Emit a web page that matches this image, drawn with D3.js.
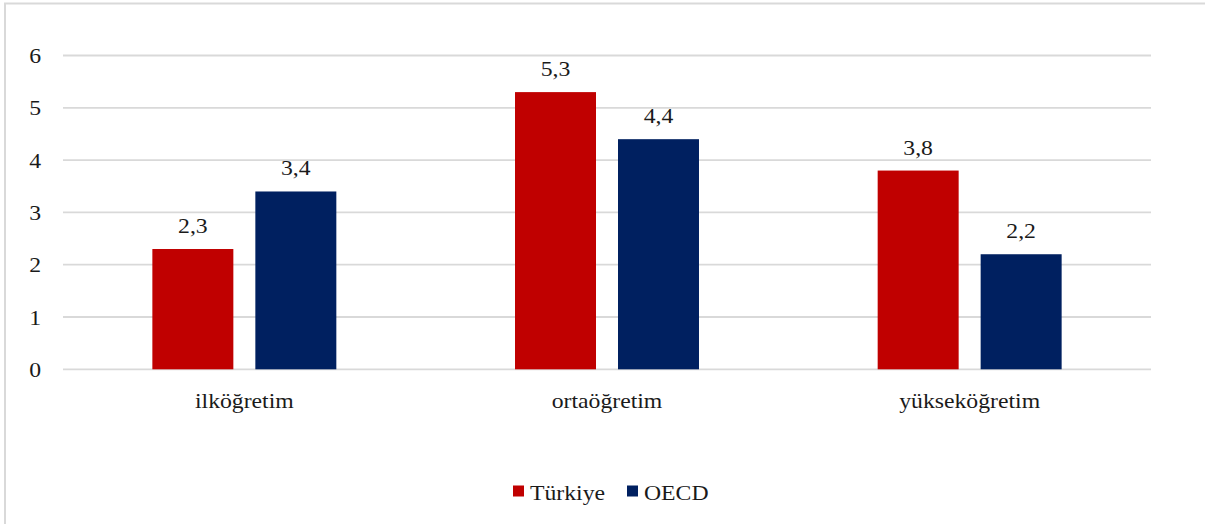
<!DOCTYPE html>
<html>
<head>
<meta charset="utf-8">
<script src="https://cdn.jsdelivr.net/npm/d3@7"></script>
<style>
  html, body { margin: 0; padding: 0; background: #fff; }
  svg { display: block; }
</style>
</head>
<body>
<svg id="chart" width="1205" height="524"></svg>
<script>
// Education levels and the two compared series
const categories = ["ilköğretim", "ortaöğretim", "yükseköğretim"];
const seriesNames = ["Türkiye", "OECD"];
const turkiyeValues = [2.3, 5.3, 3.8];
const oecdValues = [3.4, 4.4, 2.2];
const yTicks = [0, 1, 2, 3, 4, 5, 6];
const seriesColors = ["#C00000", "#002060"];

const seriesValues = [turkiyeValues, oecdValues];
const fmt = v => String(v).replace(".", ",");
const FONT = "Liberation Serif";
const FS = 21;        // glyph height
const STRETCH = 1.13; // slightly widened lettering

const svg = d3.select("#chart");
const W = 1205, H = 524;
const plot = { left: 63, right: 1151, top: 55.5, bottom: 369.3 };

// Places a text label at (x, y) with widened glyphs
function label(parent, x, y, str, anchor) {
  return parent.append("text")
    .attr("transform", `translate(${x},${y}) scale(${STRETCH},1)`)
    .attr("text-anchor", anchor || "start")
    .style("font-family", FONT)
    .style("font-size", FS + "px")
    .style("fill", "#1a1a1a")
    .text(str);
}

// Chart frame (only the top and left edges fall inside the view)
svg.append("rect")
  .attr("x", 5).attr("y", 3.5)
  .attr("width", W + 50).attr("height", H + 50)
  .attr("fill", "none").attr("stroke", "#d9d9d9").attr("stroke-width", 2);

const x0 = d3.scaleBand()
  .domain(categories)
  .range([plot.left, plot.right])
  .paddingInner(0.4927)
  .paddingOuter(0.2464);

const x1 = d3.scaleBand()
  .domain(seriesNames)
  .range([0, x0.bandwidth()])
  .paddingInner(0.2136)
  .paddingOuter(0);

const y = d3.scaleLinear()
  .domain([0, 6])
  .range([plot.bottom, plot.top]);

// Horizontal gridlines
svg.append("g")
  .selectAll("line")
  .data(yTicks)
  .join("line")
  .attr("x1", plot.left).attr("x2", plot.right)
  .attr("y1", d => y(d)).attr("y2", d => y(d))
  .attr("stroke", "#d9d9d9").attr("stroke-width", 1.8);

// Y axis labels
const yG = svg.append("g");
yTicks.forEach(t => label(yG, 41, y(t) + 7.5, String(t), "end"));

// Bars
const barG = svg.append("g");
categories.forEach((c, ci) => {
  seriesNames.forEach((s, si) => {
    const v = seriesValues[si][ci];
    const bx = x0(c) + x1(s);
    barG.append("rect")
      .attr("x", bx)
      .attr("y", y(v))
      .attr("width", x1.bandwidth())
      .attr("height", y(0) - y(v))
      .attr("fill", seriesColors[si]);
    // value label above the bar
    label(barG, bx + x1.bandwidth() / 2, y(v) - 16, fmt(v), "middle");
  });
});

// Category labels
const xG = svg.append("g");
categories.forEach(c => label(xG, x0(c) + x0.bandwidth() / 2, plot.bottom + 38.5, c, "middle"));

// Legend
const legendItems = [
  { name: seriesNames[0], color: seriesColors[0], x: 513 },
  { name: seriesNames[1], color: seriesColors[1], x: 627 }
];
const legend = svg.append("g");
legendItems.forEach(d => {
  legend.append("rect")
    .attr("x", d.x).attr("y", 485.5)
    .attr("width", 11).attr("height", 11)
    .attr("fill", d.color);
  label(legend, d.x + 17, 499.5, d.name, "start");
});
</script>
</body>
</html>
